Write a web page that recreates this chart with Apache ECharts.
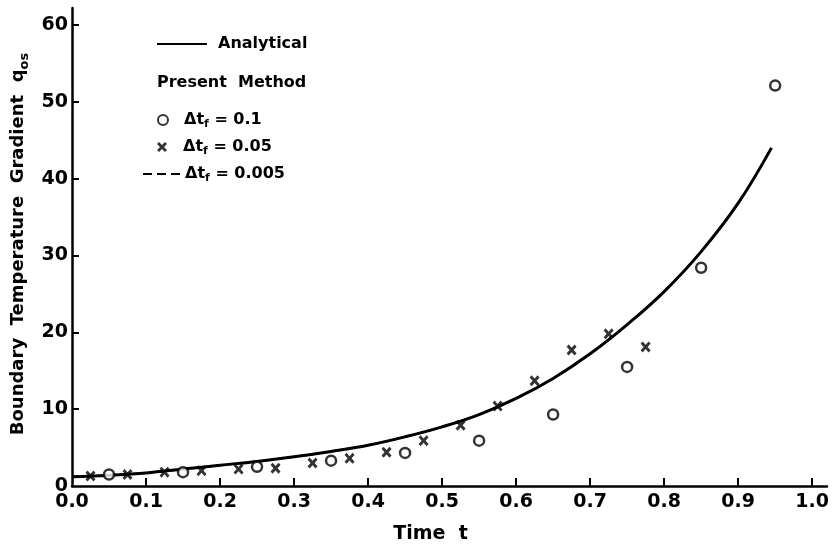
<!DOCTYPE html>
<html><head><meta charset="utf-8">
<script src="https://cdn.jsdelivr.net/npm/echarts@6/dist/echarts.min.js"></script>
<style>html,body{margin:0;padding:0;background:#fff}#c{width:832px;height:551px}</style>
</head><body><div id="c"></div>
<script>
// ---- data ----
const analyticT = [0, 0.05, 0.1, 0.15, 0.2, 0.25, 0.3, 0.35, 0.4, 0.45, 0.5, 0.55, 0.6, 0.65, 0.7, 0.75, 0.8, 0.85, 0.9, 0.945];
const analyticQ = [1.2, 1.4, 1.7, 2.2, 2.7, 3.2, 3.8, 4.5, 5.3, 6.4, 7.7, 9.3, 11.4, 14.0, 17.2, 21.0, 25.3, 30.5, 36.8, 44.0];

// dashed curve coincides with the analytical one in the picture
const fineT = [0, 0.05, 0.1, 0.15, 0.2, 0.25, 0.3, 0.35, 0.4, 0.45, 0.5, 0.55, 0.6, 0.65, 0.7, 0.75, 0.8, 0.85, 0.9, 0.945];
const fineQ = [1.2, 1.4, 1.7, 2.2, 2.7, 3.2, 3.8, 4.5, 5.3, 6.4, 7.7, 9.3, 11.4, 14.0, 17.2, 21.0, 25.3, 30.5, 36.8, 44.0];

const coarseT = [0.05, 0.15, 0.25, 0.35, 0.45, 0.55, 0.65, 0.75, 0.85, 0.95];
const coarseQ = [1.5, 1.8, 2.5, 3.3, 4.3, 5.9, 9.3, 15.5, 28.4, 52.1];

const midT = [0.025, 0.075, 0.125, 0.175, 0.225, 0.275, 0.325, 0.375, 0.425, 0.475, 0.525, 0.575, 0.625, 0.675, 0.725, 0.775];
const midQ = [1.3, 1.5, 1.8, 2.0, 2.2, 2.3, 3.0, 3.6, 4.4, 5.9, 7.9, 10.4, 13.7, 17.7, 19.8, 18.1];

const xTicks = [0.1, 0.2, 0.3, 0.4, 0.5, 0.6, 0.7, 0.8, 0.9, 1.0];
const xLabels = [0, 0.1, 0.2, 0.3, 0.4, 0.5, 0.6, 0.7, 0.8, 0.9, 1.0];
const yTicks = [10, 20, 30, 40, 50, 60];
const yLabels = [0, 10, 20, 30, 40, 50, 60];

const nameAnalytical = 'Analytical';
const nameCoarse = 'Δt_f = 0.1';
const nameMid = 'Δt_f = 0.05';
const nameFine = 'Δt_f = 0.005';

// ---- chart ----
const FONT = 'DejaVu Sans';
const zip = (a, b) => a.map((v, i) => [v, b[i]]);
const xPath = 'path://M0,2 L2,0 L5,3 L8,0 L10,2 L7,5 L10,8 L8,10 L5,7 L2,10 L0,8 L3,5 Z';
const solidIcon = 'path://M0,0H50V2H0Z';
const dashIcon = 'path://M0,0H9V2H0Z M14,0H23V2H14Z M28,0H37V2H28Z';

const rich = {
  n: {fontFamily: FONT, fontWeight: 'bold', fontSize: 16, color: '#000', lineHeight: 20},
  s: {fontFamily: FONT, fontWeight: 'bold', fontSize: 11, color: '#000', lineHeight: 12, verticalAlign: 'bottom'}
};
const legendFmt = name => {
  const m = name.match(/^Δt_f(.*)$/);
  return m ? '{n|Δt}{s|f}{n|' + m[1] + '}' : '{n|' + name + '}';
};
const legendBase = {
  orient: 'vertical', padding: 0, selectedMode: false,
  formatter: legendFmt,
  textStyle: {rich: rich, lineHeight: 20}
};

const chart = echarts.init(document.getElementById('c'), null, {renderer: 'canvas'});
chart.setOption({
  backgroundColor: '#fff',
  animation: false,
  grid: {left: 72, right: 4, top: 8, bottom: 65},
  xAxis: {
    type: 'value', min: 0, max: 1.02,
    name: 'Time  t', nameLocation: 'middle', nameGap: 39,
    nameTextStyle: {fontFamily: FONT, fontWeight: 'bold', fontSize: 19, color: '#000', padding: [0, 38, 0, 0]},
    axisLine: {lineStyle: {color: '#000', width: 2.5}},
    axisTick: {inside: true, length: 8, customValues: xTicks, lineStyle: {color: '#000', width: 2}},
    axisLabel: {customValues: xLabels, formatter: v => v.toFixed(1), fontFamily: FONT, fontWeight: 'bold', fontSize: 19, color: '#000', margin: 7},
    splitLine: {show: false}
  },
  yAxis: {
    type: 'value', min: 0, max: 62.2,
    name: '{t|Boundary  Temperature  Gradient  q}{u|os}', nameLocation: 'middle', nameGap: 34,
    nameTextStyle: {
      padding: [0, 0, 0, 6],
      rich: {
        t: {fontFamily: FONT, fontWeight: 'bold', fontSize: 18, color: '#000', lineHeight: 24},
        u: {fontFamily: FONT, fontWeight: 'bold', fontSize: 13, color: '#000', lineHeight: 10, verticalAlign: 'bottom'}
      }
    },
    axisLine: {lineStyle: {color: '#000', width: 2.5}},
    axisTick: {inside: true, length: 7, customValues: yTicks, lineStyle: {color: '#000', width: 2}},
    axisLabel: {customValues: yLabels, fontFamily: FONT, fontWeight: 'bold', fontSize: 19, color: '#000', margin: 4},
    splitLine: {show: false}
  },
  legend: [
    Object.assign({}, legendBase, {left: 157, top: 34, itemWidth: 50, itemHeight: 14,
      data: [{name: nameAnalytical, icon: solidIcon}],
      textStyle: {rich: rich, lineHeight: 20, padding: [0, 0, 0, 6]}}),
    Object.assign({}, legendBase, {left: 157, top: 110, itemWidth: 10, itemHeight: 10, data: [nameCoarse],
      textStyle: {rich: rich, lineHeight: 20, padding: [0, 0, 0, 11]}}),
    Object.assign({}, legendBase, {left: 157, top: 137, itemWidth: 10, itemHeight: 10, data: [nameMid],
      textStyle: {rich: rich, lineHeight: 20, padding: [0, 0, 0, 11]}}),
    Object.assign({}, legendBase, {left: 143, top: 164, itemWidth: 37, itemHeight: 10,
      data: [{name: nameFine, icon: dashIcon}]})
  ],
  graphic: [{
    type: 'text', left: 157, top: 75,
    style: {text: 'Present  Method', font: 'bold 16px "DejaVu Sans"', fill: '#000'}
  }],
  series: [
    {
      name: nameFine, type: 'line', data: zip(fineT, fineQ), smooth: 0.4,
      symbol: 'none', z: 2,
      lineStyle: {color: '#000', width: 2, type: [8, 4]}, itemStyle: {color: '#000'}
    },
    {
      name: nameAnalytical, type: 'line', data: zip(analyticT, analyticQ), smooth: 0.4,
      symbol: 'none', z: 3,
      lineStyle: {color: '#000', width: 3}, itemStyle: {color: '#000'}
    },
    {
      name: nameCoarse, type: 'scatter', data: zip(coarseT, coarseQ), z: 4,
      symbol: 'circle', symbolSize: 10,
      itemStyle: {color: '#fff', borderColor: '#000', borderWidth: 2.5}
    },
    {
      name: nameMid, type: 'scatter', data: zip(midT, midQ), z: 4,
      symbol: xPath, symbolSize: [10, 11],
      itemStyle: {color: '#000'}
    }
  ]
});
</script>
</body></html>
